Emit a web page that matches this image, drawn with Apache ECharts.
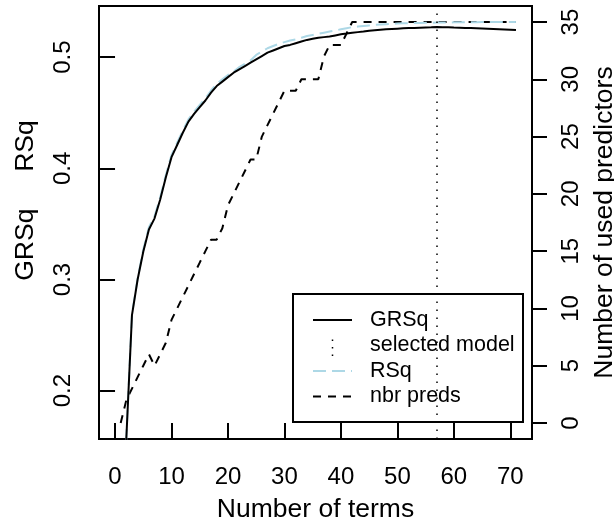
<!DOCTYPE html>
<html>
<head>
<meta charset="utf-8">
<script src="https://cdn.jsdelivr.net/npm/echarts@6/dist/echarts.min.js"></script>
<style>
  html, body { margin: 0; padding: 0; background: #fff; }
  #chart { width: 614px; height: 521px; }
</style>
</head>
<body>
<div id="chart"></div>
<script>
// number of terms in the model
const terms = [1, 2, 3, 4, 5, 6, 7, 8, 9, 10, 11, 12, 13, 14, 15, 16, 17, 18, 19, 20,
  21, 22, 23, 24, 25, 26, 27, 28, 29, 30, 31, 32, 33, 34, 35, 36, 37, 38, 39, 40,
  41, 42, 43, 44, 45, 46, 47, 48, 49, 50, 51, 52, 53, 54, 55, 56, 57, 58, 59, 60,
  61, 62, 63, 64, 65, 66, 67, 68, 69, 70, 71];

const grsq = [0, 0.157, 0.268, 0.300, 0.325, 0.345, 0.355, 0.372, 0.392, 0.410,
  0.421, 0.432, 0.442, 0.449, 0.455, 0.461, 0.468, 0.474, 0.478, 0.482,
  0.486, 0.489, 0.492, 0.495, 0.498, 0.501, 0.504, 0.506, 0.508, 0.510,
  0.511, 0.5125, 0.514, 0.5155, 0.5165, 0.5175, 0.518, 0.5185, 0.5195, 0.5205,
  0.5212, 0.522, 0.5225, 0.523, 0.5237, 0.5242, 0.5246, 0.525, 0.5253, 0.5256,
  0.5259, 0.5261, 0.5263, 0.5265, 0.5267, 0.5268, 0.527, 0.5269, 0.5268, 0.5266,
  0.5265, 0.5263, 0.5261, 0.5259, 0.5257, 0.5255, 0.5253, 0.5251, 0.5249, 0.5247,
  0.5245];

const rsq = [0, 0.158, 0.269, 0.301, 0.327, 0.347, 0.357, 0.374, 0.394, 0.412,
  0.423, 0.434, 0.444, 0.451, 0.457, 0.463, 0.470, 0.476, 0.480, 0.484,
  0.487, 0.491, 0.494, 0.497, 0.502, 0.505, 0.508, 0.510, 0.512, 0.5135,
  0.515, 0.516, 0.5175, 0.519, 0.520, 0.521, 0.522, 0.523, 0.524, 0.525,
  0.526, 0.527, 0.5275, 0.528, 0.5285, 0.529, 0.5293, 0.5296, 0.5299, 0.5302,
  0.5304, 0.5306, 0.5307, 0.5308, 0.5309, 0.531, 0.5311, 0.5312, 0.5312, 0.5313,
  0.5313, 0.5314, 0.5314, 0.5314, 0.5315, 0.5315, 0.5315, 0.5315, 0.5316, 0.5316,
  0.5316];

const nbrPreds = [0, 2, 3, 4, 5, 6, 5, 6, 7, 9,
  10, 11, 12, 13, 14, 15, 16, 16, 17, 19,
  20, 21, 22, 23, 23, 25, 26, 27, 28, 29,
  29, 29, 30, 30, 30, 30, 32, 33, 33, 33,
  34, 35, 35, 35, 35, 35, 35, 35, 35, 35,
  35, 35, 35, 35, 35, 35, 35, 35, 35, 35,
  35, 35, 35, 35, 35, 35, 35, 35, 35, 35,
  35];

const selectedTerms = 57;

const xTicks = [0, 10, 20, 30, 40, 50, 60, 70];
const leftTicks = [0.2, 0.3, 0.4, 0.5];
const rightTicks = [0, 5, 10, 15, 20, 25, 30, 35];

const legendNames = ['GRSq', 'selected model', 'RSq', 'nbr preds'];

const FONT = "'Liberation Sans', Arial, Helvetica, sans-serif";
const pair = (ys) => terms.map((t, i) => [t, ys[i]]);

const chart = echarts.init(document.getElementById('chart'), null, { renderer: 'canvas' });

const tickStyle = { show: true, length: 15, lineStyle: { color: '#000', width: 2 } };
const labelStyle = { color: '#000', fontFamily: FONT, fontSize: 24 };
const nameStyle = { color: '#000', fontFamily: FONT, fontSize: 26.5 };

// legend drawn by hand, R style
const lx = 293, ly = 294, lw = 230, lh = 128;
const rowY = [320, 345.5, 371, 396.5];
const legendGraphic = [
  { type: 'rect', shape: { x: lx, y: ly, width: lw, height: lh },
    style: { fill: '#fff', stroke: '#000', lineWidth: 2 } },
  { type: 'line', shape: { x1: 313, y1: rowY[0], x2: 352, y2: rowY[0] },
    style: { stroke: '#000', lineWidth: 2 } },
  { type: 'line', shape: { x1: 332.5, y1: rowY[1] - 6, x2: 332.5, y2: rowY[1] + 14 },
    style: { stroke: '#000', lineWidth: 1.5, lineDash: [1.5, 6] } },
  { type: 'line', shape: { x1: 313, y1: rowY[2], x2: 352, y2: rowY[2] },
    style: { stroke: '#ADD8E6', lineWidth: 2, lineDash: [13, 6] } },
  { type: 'line', shape: { x1: 313, y1: rowY[3], x2: 352, y2: rowY[3] },
    style: { stroke: '#000', lineWidth: 2, lineDash: [8, 7] } }
];
legendNames.forEach((name, i) => {
  legendGraphic.push({
    type: 'text', x: 370, y: rowY[i],
    style: { text: name, fill: '#000', font: '21.5px ' + FONT, textVerticalAlign: 'middle' }
  });
});

const option = {
  animation: false,
  backgroundColor: '#fff',
  grid: {
    left: 99, right: 82, top: 6, bottom: 82,
    containLabel: false, outerBoundsMode: 'none',
    show: true, borderColor: '#000', borderWidth: 2, backgroundColor: 'transparent'
  },
  xAxis: {
    type: 'value', min: -2.84, max: 73.84,
    name: 'Number of terms', nameLocation: 'middle', nameGap: 57,
    nameTextStyle: nameStyle,
    axisLine: { show: false },
    splitLine: { show: false },
    axisTick: Object.assign({ customValues: xTicks }, tickStyle),
    axisLabel: Object.assign({ customValues: xTicks, margin: 26 }, labelStyle)
  },
  yAxis: [
    {
      type: 'value', position: 'left', min: 0.1565, max: 0.546,
      name: 'GRSq     RSq', nameLocation: 'middle', nameGap: 60, nameRotate: 90,
      nameTextStyle: Object.assign({ padding: [0, 0, 0, 44] }, nameStyle),
      axisLine: { show: false },
      splitLine: { show: false },
      axisTick: Object.assign({ customValues: leftTicks }, tickStyle),
      axisLabel: Object.assign({ customValues: leftTicks, rotate: 90, margin: 24,
        formatter: (v) => v.toFixed(1) }, labelStyle)
    },
    {
      type: 'value', position: 'right', min: -1.4, max: 36.4,
      name: 'Number of used predictors', nameLocation: 'middle', nameGap: 58, nameRotate: 90,
      nameTextStyle: nameStyle,
      axisLine: { show: false },
      splitLine: { show: false },
      axisTick: Object.assign({ customValues: rightTicks }, tickStyle),
      axisLabel: Object.assign({ customValues: rightTicks, rotate: 90, margin: 27 }, labelStyle)
    }
  ],
  series: [
    {
      name: 'nbr preds', type: 'line', yAxisIndex: 1, data: pair(nbrPreds),
      symbol: 'none', clip: true,
      lineStyle: { color: '#000', width: 2, type: [8, 7] }
    },
    {
      name: 'RSq', type: 'line', yAxisIndex: 0, data: pair(rsq),
      symbol: 'none', clip: true,
      lineStyle: { color: '#ADD8E6', width: 2, type: [13, 6] }
    },
    {
      name: 'GRSq', type: 'line', yAxisIndex: 0, data: pair(grsq),
      symbol: 'none', clip: true,
      lineStyle: { color: '#000', width: 2 },
      markLine: {
        silent: true, symbol: 'none', label: { show: false },
        lineStyle: { color: '#000', width: 1.5, type: [1.5, 6.5] },
        data: [{ xAxis: selectedTerms }]
      }
    }
  ],
  graphic: legendGraphic
};

chart.setOption(option);
</script>
</body>
</html>
